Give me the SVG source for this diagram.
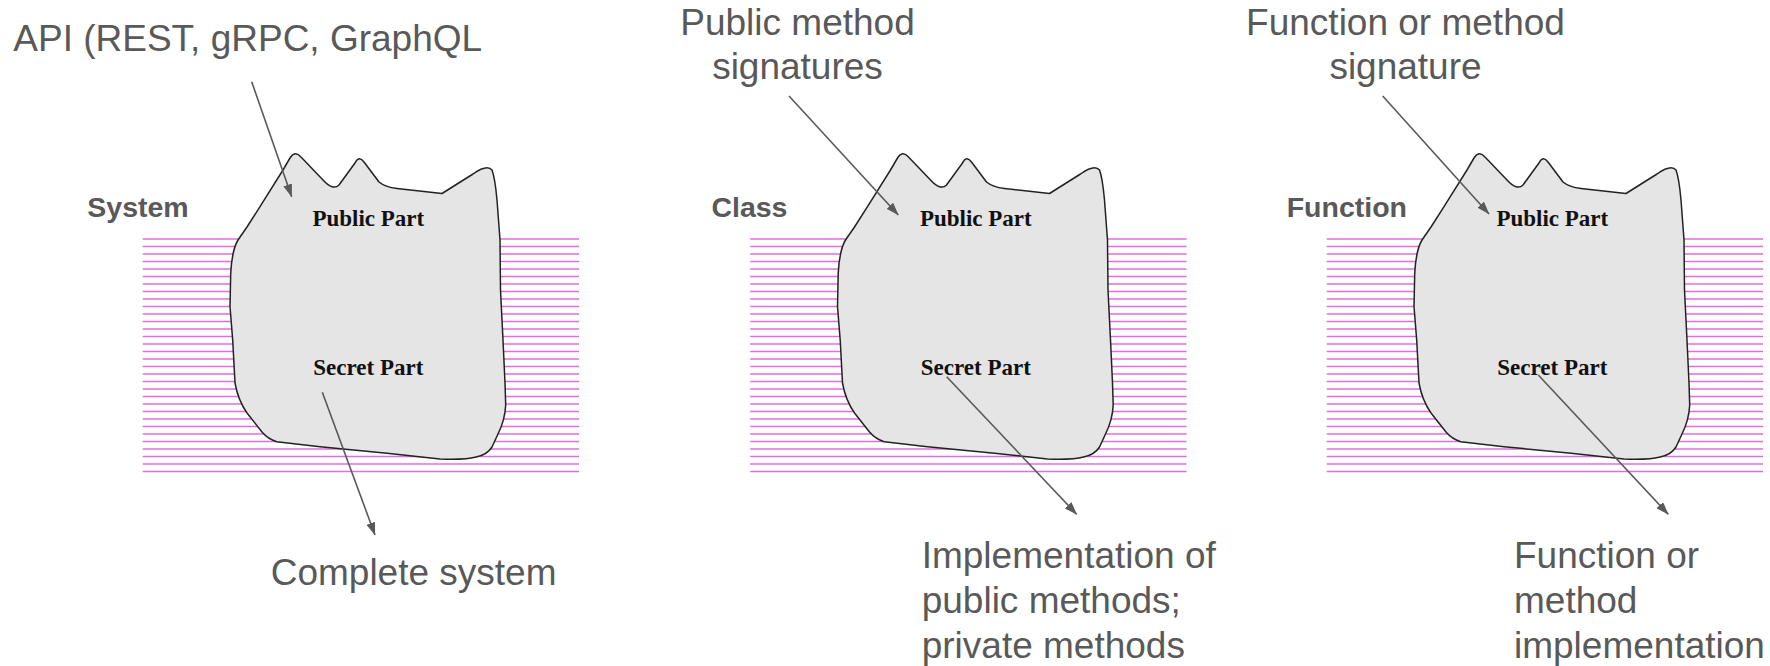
<svg xmlns="http://www.w3.org/2000/svg" xmlns:xlink="http://www.w3.org/1999/xlink" width="1770" height="666" viewBox="0 0 1770 666">
  <style>
    .note { font-family: "Liberation Sans", Arial, sans-serif; font-size: 37px; fill: #595959; }
    .label { font-family: "Liberation Sans", Arial, sans-serif; font-size: 28.5px; font-weight: bold; fill: #595959; }
    .part { font-family: "Liberation Serif", "Times New Roman", serif; font-size: 23px; font-weight: bold; fill: #111111; text-anchor: middle; }
    .stripes { fill: none; stroke: #e06ee0; stroke-width: 1.6; }
    .blob { fill: #e5e5e5; stroke: #222222; stroke-width: 1.5; stroke-linejoin: round; }
    .conn { fill: none; stroke: #595959; stroke-width: 1.6; marker-end: url(#arrow); }
  </style>
  <defs>
    <marker id="arrow" viewBox="0 0 13 9" refX="12.5" refY="4.5" markerWidth="13" markerHeight="9" markerUnits="userSpaceOnUse" orient="auto">
      <path d="M0,0 L13,4.5 L0,9 Z" fill="#595959"/>
    </marker>
    <!-- hatched band behind each module: 32 horizontal lines, 7.5px apart -->
    <path id="band" class="stripes" d="M142.7,239h436.3 M142.7,246.5h436.3 M142.7,254h436.3 M142.7,261.5h436.3 M142.7,269h436.3 M142.7,276.5h436.3 M142.7,284h436.3 M142.7,291.5h436.3 M142.7,299h436.3 M142.7,306.5h436.3 M142.7,314h436.3 M142.7,321.5h436.3 M142.7,329h436.3 M142.7,336.5h436.3 M142.7,344h436.3 M142.7,351.5h436.3 M142.7,359h436.3 M142.7,366.5h436.3 M142.7,374h436.3 M142.7,381.5h436.3 M142.7,389h436.3 M142.7,396.5h436.3 M142.7,404h436.3 M142.7,411.5h436.3 M142.7,419h436.3 M142.7,426.5h436.3 M142.7,434h436.3 M142.7,441.5h436.3 M142.7,449h436.3 M142.7,456.5h436.3 M142.7,464h436.3 M142.7,471.5h436.3"/>
    <!-- irregular module outline -->
    <path id="module" class="blob" d="M290,158 Q295,150 301,157 L323,180 Q333,191 339,185 L355,163 Q359,155 364,162 L379,182 Q385,187 397,188.5 L442,193.5 L473,174 Q487,164 492,170 Q495,178 497,200 L500,240 L500.5,290 L503,340 L505,383 L505.7,405 Q505,420 498,434 L492,447 Q487,455 476,457 Q465,460 440,459 L387,453.3 L320,446.7 L276.7,441.7 Q268,439 262,432 L247,413 Q238,400 235,383 L232.7,340 L230,306.7 L230.7,273.3 Q232,250 238,240 L247,227 L260,206.7 L283,170 Z"/>
  </defs>

  <rect width="1770" height="666" fill="#ffffff"/>

  <!-- System -->
  <g id="system">
    <use xlink:href="#band" href="#band"/>
    <use xlink:href="#module" href="#module"/>
    <text class="part" x="368.3" y="226">Public Part</text>
    <text class="part" x="368.3" y="375">Secret Part</text>
    <text class="label" x="87.3" y="216.7">System</text>
  </g>

  <!-- Class -->
  <g id="class" transform="translate(607.5,0)">
    <use xlink:href="#band" href="#band"/>
    <use xlink:href="#module" href="#module"/>
    <text class="part" x="368.3" y="226">Public Part</text>
    <text class="part" x="368.3" y="375">Secret Part</text>
  </g>
  <text id="class-label" class="label" x="711.4" y="216.7">Class</text>

  <!-- Function -->
  <g id="function" transform="translate(1184,0)">
    <use xlink:href="#band" href="#band"/>
    <use xlink:href="#module" href="#module"/>
    <text class="part" x="368.3" y="226">Public Part</text>
    <text class="part" x="368.3" y="375">Secret Part</text>
  </g>
  <text id="function-label" class="label" x="1286.7" y="216.7">Function</text>

  <!-- annotations -->
  <g id="note-api">
    <text class="note" x="13.3" y="50.7">API (REST, gRPC, GraphQL</text>
  </g>
  <g id="note-complete">
    <text class="note" x="270.7" y="585">Complete system</text>
  </g>
  <g id="note-signatures">
    <text class="note" text-anchor="middle" x="797.5" y="35">Public method</text>
    <text class="note" text-anchor="middle" x="797.5" y="79">signatures</text>
  </g>
  <g id="note-class-impl">
    <text class="note" x="921.7" y="568.3">Implementation of</text>
    <text class="note" x="921.7" y="613.3">public methods;</text>
    <text class="note" x="921.7" y="658.3">private methods</text>
  </g>
  <g id="note-signature">
    <text class="note" text-anchor="middle" x="1405.5" y="35">Function or method</text>
    <text class="note" text-anchor="middle" x="1405.5" y="79">signature</text>
  </g>
  <g id="note-function-impl">
    <text class="note" x="1514" y="568.3">Function or</text>
    <text class="note" x="1514" y="613.3">method</text>
    <text class="note" x="1514" y="658.3">implementation</text>
  </g>

  <!-- connectors -->
  <g id="connectors">
    <line class="conn" x1="251.7" y1="81.7" x2="291.7" y2="196.7"/>
    <line class="conn" x1="322.3" y1="392.3" x2="375" y2="535"/>
    <line class="conn" x1="789" y1="96" x2="898.3" y2="215"/>
    <line class="conn" x1="946.7" y1="376.7" x2="1076.7" y2="514.3"/>
    <line class="conn" x1="1382.7" y1="96" x2="1489" y2="214"/>
    <line class="conn" x1="1538.3" y1="375" x2="1668.3" y2="514.3"/>
  </g>
</svg>
